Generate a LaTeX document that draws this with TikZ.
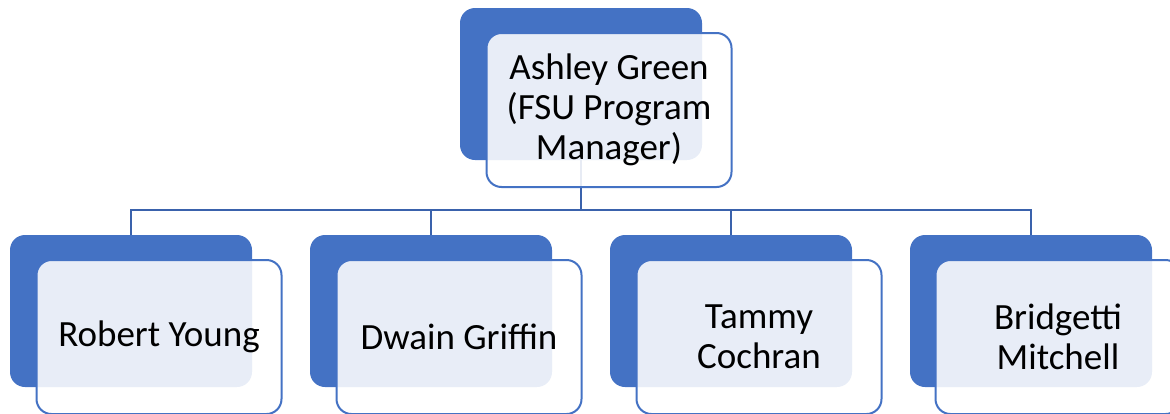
\documentclass[tikz,border=0pt]{standalone}
\usepackage{fontspec}
\setmainfont{Carlito}
\definecolor{accent}{HTML}{4472C4}
\definecolor{conn}{HTML}{3A62AC}
\begin{document}
\begin{tikzpicture}[x=1pt,y=1pt,
  backbox/.style={draw=none, fill=accent, rounded corners=15pt, minimum width=242pt, minimum height=152pt, inner sep=0pt},
  frontbox/.style={draw=accent, line width=2pt, fill=white, fill opacity=0.88, text opacity=1, rounded corners=15pt, minimum width=245pt, minimum height=154pt, inner sep=0pt, align=center, font=\fontsize{37}{40}\selectfont},
  link/.style={draw=conn, line width=2pt}]
\useasboundingbox (0,0) rectangle (1170,-413);
\coordinate (bus) at (0,-210);
% back boxes
\node[backbox] (b0) at (581,-84) {};
\node[backbox] (b1) at (131,-311) {};
\node[backbox] (b2) at (431,-311) {};
\node[backbox] (b3) at (731,-311) {};
\node[backbox] (b4) at (1031,-311) {};
% connectors
\draw[link] (b0.south) -- (b0.south |- bus);
\draw[link] (b1.north) -- (b1.north |- bus) -- (b4.north |- bus) -- (b4.north);
\draw[link] (b2.north |- bus) -- (b2.north);
\draw[link] (b3.north |- bus) -- (b3.north);
% front boxes
\node[frontbox] (f0) at (609,-110) {Ashley Green\\(FSU Program\\Manager)};
\node[frontbox] (f1) at (159,-337) {Robert Young};
\node[frontbox] (f2) at (459,-337) {Dwain Griffin};
\node[frontbox] (f3) at (759,-337) {Tammy\\Cochran};
\node[frontbox] (f4) at (1058,-337) {Bridgetti\\Mitchell};
\end{tikzpicture}
\end{document}
